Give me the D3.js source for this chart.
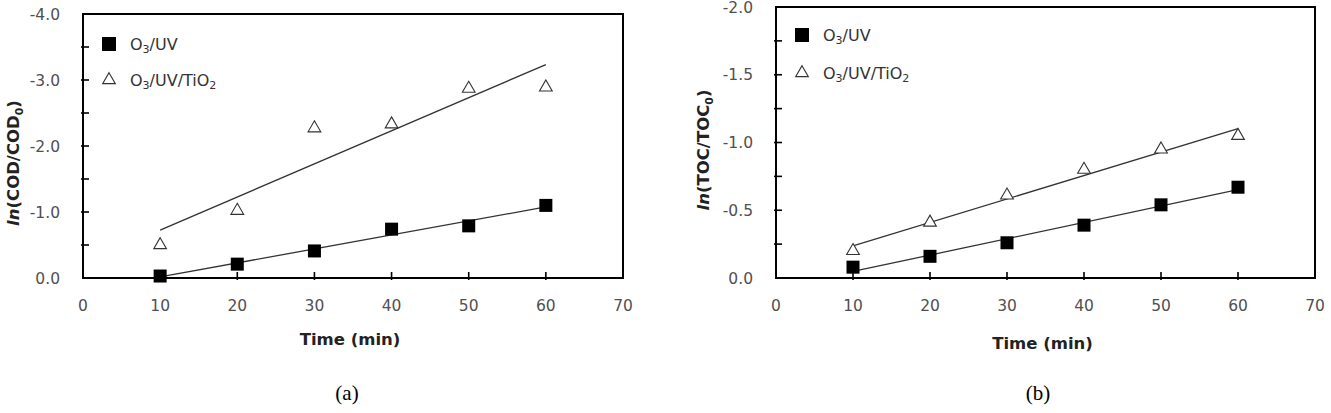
<!DOCTYPE html>
<html>
<head>
<meta charset="utf-8">
<script src="https://cdn.jsdelivr.net/npm/d3@7"></script>
<style>
    body { margin: 0; background: #fff; }
    svg { display: block; font-family: "DejaVu Sans", sans-serif; }
</style>
</head>
<body>
<svg width="1331" height="413"></svg>
<script>
// sampling times (min)
var times = [10, 20, 30, 40, 50, 60];
// panel (a): ln(COD/COD0)
var codUV = [-0.03, -0.21, -0.41, -0.74, -0.79, -1.10];
var codTiO2 = [-0.50, -1.02, -2.27, -2.33, -2.87, -2.89];
// panel (b): ln(TOC/TOC0)
var tocUV = [-0.08, -0.16, -0.26, -0.39, -0.54, -0.67];
var tocTiO2 = [-0.20, -0.41, -0.61, -0.80, -0.95, -1.05];
// axis ticks
var xTicks = [0, 10, 20, 30, 40, 50, 60, 70];
var xInnerTicks = [10, 20, 30, 40, 50, 60];
var codLabels = [0, -1, -2, -3, -4];
var codMarks = [-0.5, -1, -1.5, -2, -2.5, -3, -3.5];
var tocLabels = [0, -0.5, -1, -1.5, -2];
var tocMarks = [-0.25, -0.5, -0.75, -1, -1.25, -1.5, -1.75];

var svg = d3.select("svg");

function fit(xs, ys) {
    var mx = d3.mean(xs), my = d3.mean(ys);
    var sxy = d3.sum(xs, function(x, i) { return (x - mx) * (ys[i] - my); });
    var sxx = d3.sum(xs, function(x) { return (x - mx) * (x - mx); });
    var b = sxy / sxx;
    return function(x) { return my + b * (x - mx); };
}

function drawPanel(p) {
    var x = d3.scaleLinear().domain([0, 70]).range([p.left, p.right]);
    var y = d3.scaleLinear().domain([0, p.ymin]).range([p.bottom, p.top]);
    var g = svg.append("g");

    // tick marks
    g.selectAll(".ytick").data(p.marks).enter()
        .append("line")
        .attr("x1", p.left - 2).attr("x2", p.left + 6)
        .attr("y1", function(d) { return y(d); })
        .attr("y2", function(d) { return y(d); })
        .attr("stroke", "#000").attr("stroke-width", 1.6);
    g.selectAll(".xtick").data(xInnerTicks).enter()
        .append("line")
        .attr("x1", function(d) { return x(d); })
        .attr("x2", function(d) { return x(d); })
        .attr("y1", p.bottom + 2).attr("y2", p.bottom - 6)
        .attr("stroke", "#000").attr("stroke-width", 1.6);

    // frame
    g.append("rect")
        .attr("x", p.left).attr("y", p.top)
        .attr("width", p.right - p.left).attr("height", p.bottom - p.top)
        .attr("fill", "none").attr("stroke", "#000").attr("stroke-width", 2);

    // tick labels
    g.selectAll(".ylab").data(p.labels).enter()
        .append("text")
        .attr("x", p.left - 23)
        .attr("y", function(d) { return y(d) + 5.5; })
        .attr("text-anchor", "end")
        .attr("font-size", "15.5px")
        .attr("fill", "#505050")
        .text(function(d) { return d3.format(".1f")(d).replace("−", "-"); });
    g.selectAll(".xlab").data(xTicks).enter()
        .append("text")
        .attr("x", function(d) { return x(d); })
        .attr("y", p.bottom + 33)
        .attr("text-anchor", "middle")
        .attr("font-size", "15.5px")
        .attr("fill", "#505050")
        .text(function(d) { return d; });

    // trend lines
    [p.uv, p.tio2].forEach(function(vals) {
        var f = fit(times, vals);
        g.append("line")
            .attr("x1", x(10)).attr("y1", y(f(10)))
            .attr("x2", x(60)).attr("y2", y(f(60)))
            .attr("stroke", "#333").attr("stroke-width", 1.3);
    });

    // markers
    g.selectAll(".sq").data(p.uv).enter()
        .append("rect")
        .attr("x", function(d, i) { return x(times[i]) - 6.5; })
        .attr("y", function(d) { return y(d) - 6.5; })
        .attr("width", 13).attr("height", 13)
        .attr("fill", "#000");
    var tri = d3.symbol().type(d3.symbolTriangle).size(70);
    g.selectAll(".tri").data(p.tio2).enter()
        .append("path")
        .attr("d", tri)
        .attr("transform", function(d, i) { return "translate(" + x(times[i]) + "," + y(d) + ")"; })
        .attr("fill", "#fff").attr("stroke", "#333").attr("stroke-width", 1.1);

    // legend
    var lx = p.left + 26;
    g.append("rect")
        .attr("x", lx - 7).attr("y", p.top + p.leg1 - 7)
        .attr("width", 14).attr("height", 14).attr("fill", "#000");
    g.append("path")
        .attr("d", tri)
        .attr("transform", "translate(" + lx + "," + (p.top + p.leg2) + ")")
        .attr("fill", "#fff").attr("stroke", "#333").attr("stroke-width", 1.1);
    legendText(g, lx + 21, p.top + p.leg1 + 6, false);
    legendText(g, lx + 21, p.top + p.leg2 + 6, true);

    // axis titles
    g.append("text")
        .attr("x", (p.left + p.right) / 2 - 3)
        .attr("y", p.bottom + p.xtitle)
        .attr("text-anchor", "middle")
        .attr("font-size", "16.5px")
        .attr("font-weight", "bold")
        .attr("fill", "#222")
        .text("Time (min)");
    var yt = g.append("text")
        .attr("transform", "translate(" + p.ytx + "," + p.yty + ") rotate(-90)")
        .attr("text-anchor", "middle")
        .attr("font-size", "16.5px")
        .attr("font-weight", "bold")
        .attr("fill", "#222");
    yt.append("tspan").attr("font-style", "italic").text("ln");
    yt.append("tspan").text("(" + p.name + "/" + p.name);
    yt.append("tspan").attr("font-size", "11px").attr("dy", 4).text("0");
    yt.append("tspan").attr("dy", -4).text(")");

    // caption
    svg.append("text")
        .attr("x", p.capx)
        .attr("y", 400)
        .attr("text-anchor", "middle")
        .style("font-family", "'Liberation Serif', serif")
        .attr("font-size", "21px")
        .attr("fill", "#000")
        .text(p.caption);
}

function legendText(g, x, y, withTi) {
    var t = g.append("text")
        .attr("x", x).attr("y", y)
        .attr("font-size", "16px")
        .attr("fill", "#333");
    t.append("tspan").text("O");
    t.append("tspan").attr("font-size", "11px").attr("dy", 3).text("3");
    t.append("tspan").attr("dy", -3).text(withTi ? "/UV/TiO" : "/UV");
    if (withTi) {
        t.append("tspan").attr("font-size", "11px").attr("dy", 3).text("2");
    }
}

drawPanel({
    left: 83, right: 623, top: 14, bottom: 278, ymin: -4,
    marks: codMarks, labels: codLabels, uv: codUV, tio2: codTiO2,
    leg1: 30, leg2: 66, name: "COD", xtitle: 67,
    ytx: 19, yty: 163, capx: 347, caption: "(a)"
});
drawPanel({
    left: 776, right: 1315, top: 7, bottom: 278, ymin: -2,
    marks: tocMarks, labels: tocLabels, uv: tocUV, tio2: tocTiO2,
    leg1: 28, leg2: 66, name: "TOC", xtitle: 71,
    ytx: 709, yty: 150, capx: 1038, caption: "(b)"
});
</script>
</body>
</html>
